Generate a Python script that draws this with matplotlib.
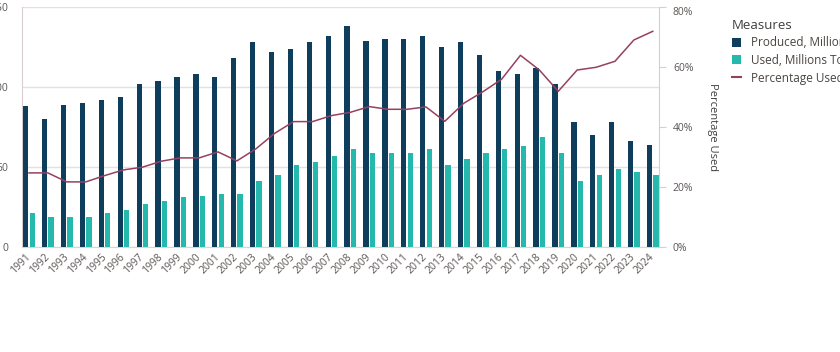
import numpy as np
import matplotlib
matplotlib.use("Agg")
import matplotlib.pyplot as plt
from matplotlib.ticker import PercentFormatter, FixedLocator
from matplotlib.patches import Patch
from matplotlib.lines import Line2D

years = list(range(1991, 2025))
produced = [88, 80, 89, 90, 92, 94, 102, 104, 106, 108, 106, 118, 128, 122, 124, 128, 132, 138,
            129, 130, 130, 132, 125, 128, 120, 110, 108, 112, 102, 78, 70, 78, 66, 64]
used = [21, 19, 19, 19, 21, 23, 27, 29, 31, 32, 33, 33, 41, 45, 51, 53, 57, 61,
        59, 59, 59, 61, 51, 55, 59, 61, 63, 69, 59, 41, 45, 49, 47, 45]
pct_used = [24.7, 24.7, 21.7, 21.7, 23.8, 25.7, 26.6, 28.6, 29.7, 29.7, 31.7, 28.7, 32.7, 37.9,
            41.8, 41.8, 43.8, 44.9, 46.8, 45.9, 45.9, 46.7, 41.9, 47.9, 51.7, 55.9, 63.9, 59.0,
            51.9, 59.0, 59.9, 61.9, 69.0, 71.9]
left_ticks = [0, 50, 100, 150]
right_ticks = [0, 0.2, 0.4, 0.6, 0.8]

NAVY = "#0f3e5d"
TEAL = "#25b9ad"
MAROON = "#96405f"
TXT = "#5a5654"
GRID = "#e4dfe1"

plt.rcParams['font.family'] = ['Open Sans', 'DejaVu Sans']

fig = plt.figure(figsize=(8.4, 3.52), dpi=100)
W, H = 840, 352
ax = fig.add_axes([22 / W, 1 - 247 / H, (659 - 22) / W, (247 - 7) / H])

x = np.arange(len(years))
bw = 0.28
ax.bar(x - 0.17, produced, width=bw, color=NAVY, zorder=3)
ax.bar(x + 0.17, used, width=bw, color=TEAL, zorder=3)
ax.set_xlim(-0.37, len(years) - 1 + 0.33)
ax.set_ylim(0, 150)
ax.yaxis.set_major_locator(FixedLocator(left_ticks))
ax.yaxis.grid(True, color=GRID, lw=1, zorder=0)
ax.set_axisbelow(True)
ax.tick_params(axis='y', length=0, pad=10, labelsize=7.5, labelcolor=TXT)
ax.set_xticks(x)
ax.set_xticklabels([str(y) for y in years], rotation=45, ha='right', va='center',
                   rotation_mode='anchor', fontsize=7.5, color=TXT)
ax.tick_params(axis='x', length=0, pad=6)
for s in ['top', 'right']:
    ax.spines[s].set_visible(False)
ax.spines['left'].set_color('#d8cdd1')
ax.spines['bottom'].set_color('#d8d4d6')

ax2 = ax.twinx()
ax2.plot(x, np.array(pct_used) / 100, color=MAROON, lw=1.1, zorder=4)
ax2.set_ylim(0, 0.8)
ax2.yaxis.set_major_locator(FixedLocator(right_ticks))
ax2.yaxis.set_major_formatter(PercentFormatter(1.0, decimals=0))
ax2.tick_params(axis='y', length=5, width=0.8, color='#d8cdd1', pad=5, labelsize=7.5, labelcolor=TXT)
for s in ['top', 'left', 'bottom']:
    ax2.spines[s].set_visible(False)
ax2.spines['right'].set_color('#d8cdd1')
ax2.set_ylabel('Percentage Used', rotation=270, labelpad=18, fontsize=8, color='#3f3f3f')
fig.canvas.draw()
ax2.get_yticklabels()[-1].set_va('top')

handles = [Patch(facecolor=NAVY, edgecolor='none'),
           Patch(facecolor=TEAL, edgecolor='none'),
           Line2D([], [], color=MAROON, lw=1.5)]
labels = ['Produced, Millions Tons', 'Used, Millions Tons', 'Percentage Used']
leg = fig.legend(handles, labels, title='Measures', loc='upper left',
                 bbox_to_anchor=(721 / W, 1 - 8 / H), frameon=False,
                 fontsize=8.5, title_fontsize=9.5, handlelength=0.8, handleheight=0.8,
                 handletextpad=0.8, labelspacing=0.4)
leg._legend_box.align = 'left'
leg.get_title().set_color('#404040')
for t in leg.get_texts():
    t.set_color('#4a4540')

fig.savefig('out.png', dpi=100)
